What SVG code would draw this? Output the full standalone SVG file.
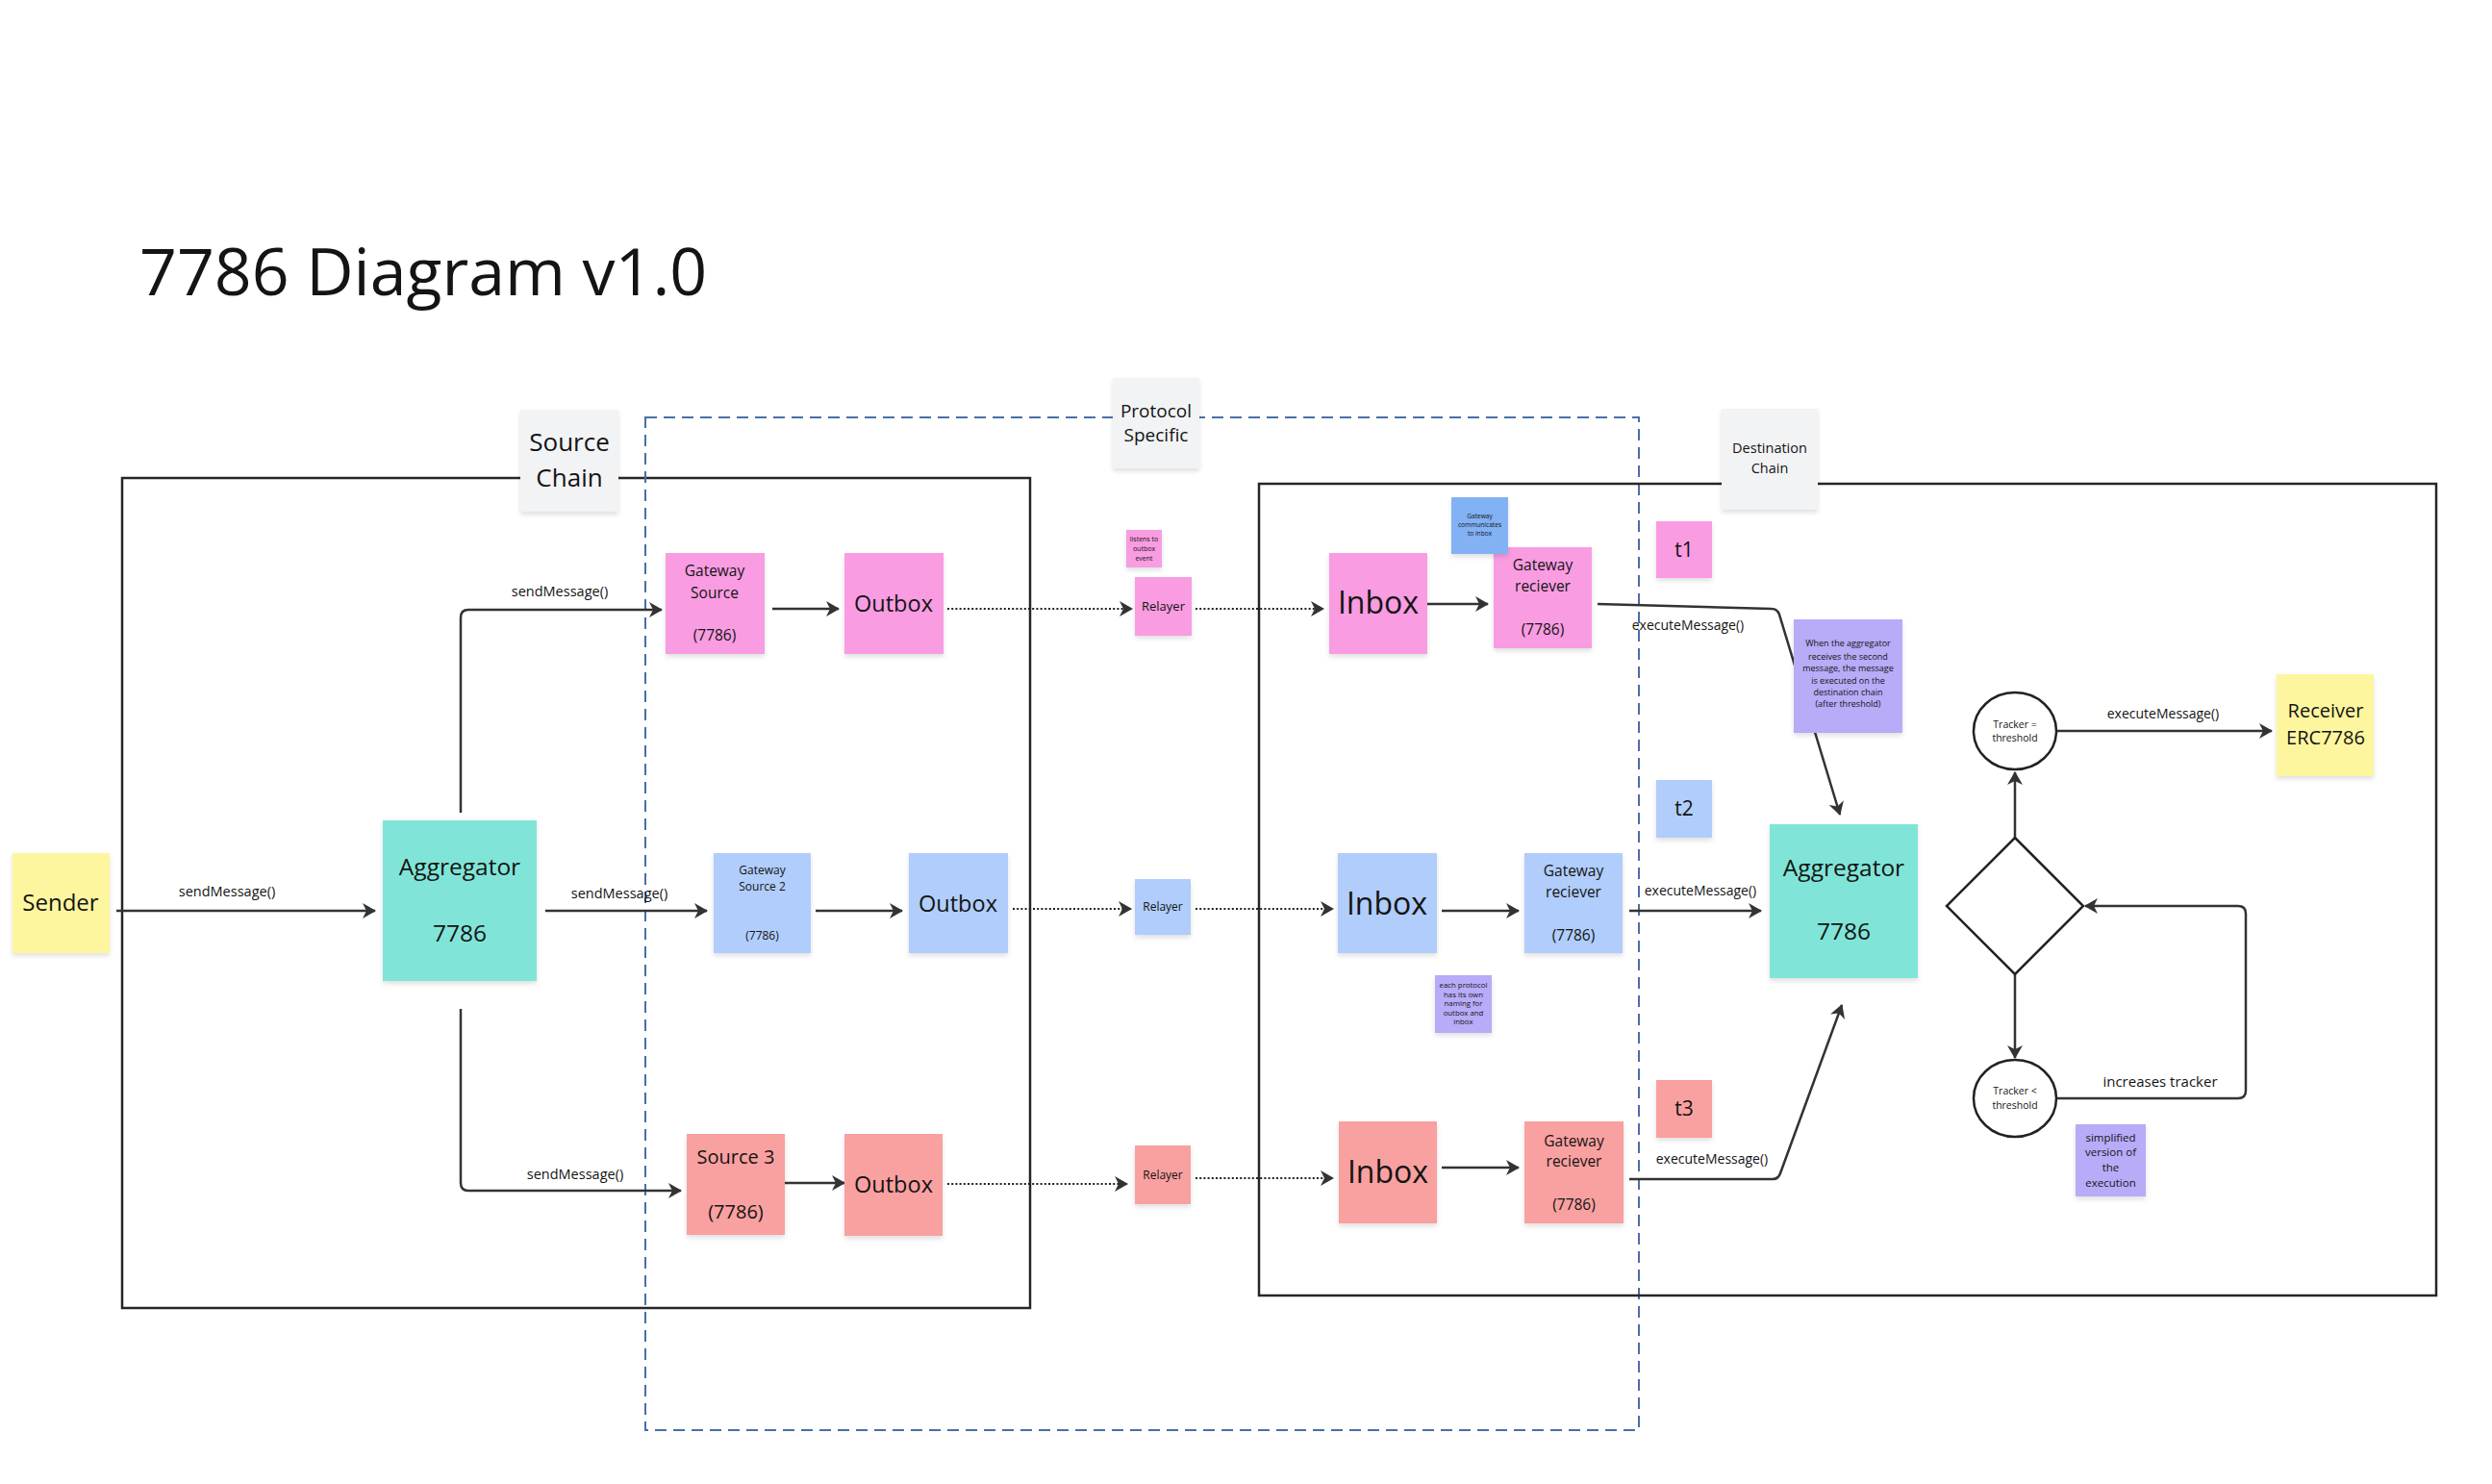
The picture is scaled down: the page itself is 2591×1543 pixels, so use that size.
<svg xmlns="http://www.w3.org/2000/svg" width="2591" height="1543" viewBox="0 0 2591 1543">
<defs>
<style>
text{font-family:"Open Sans","Noto Sans",sans-serif;fill:#141414;text-anchor:middle}
.pink{fill:#f99ce2}
.blue{fill:#b0cdfb}
.red{fill:#f9a0a0}
.teal{fill:#80e5d8}
.yellow{fill:#fdf69f}
.purple{fill:#b8abf8}
.bnote{fill:#82b1f4}
.grey{fill:#f2f3f5}
.st{filter:url(#sh)}
.frame{fill:none;stroke:#262626;stroke-width:2.5}
.dash{fill:none;stroke:#4a6ea8;stroke-width:2;stroke-dasharray:12 7}
.c{fill:none;stroke:#333;stroke-width:2.5;marker-end:url(#a)}
.d{fill:none;stroke:#222;stroke-width:2.2;stroke-dasharray:2 2.2;marker-end:url(#a)}
.n{fill:#fff;stroke:#222;stroke-width:2.5}
.lbl{font-size:14.5px}
.ex{font-size:14px}
</style>
<filter id="sh" x="-10%" y="-10%" width="120%" height="125%"><feDropShadow dx="0" dy="3" stdDeviation="2.5" flood-color="#000" flood-opacity="0.12"/></filter>
<marker id="a" viewBox="0 0 14 16" refX="13" refY="8" markerWidth="14" markerHeight="16" markerUnits="userSpaceOnUse" orient="auto"><path d="M0,0 L14,8 L0,16 L4,8 Z" fill="#333"/></marker>
</defs>
<rect width="2591" height="1543" fill="#fff"/>
<text x="145" y="307" style="font-size:68px;text-anchor:start">7786 Diagram v1.0</text>

<g id="containers">
<rect class="frame" x="127" y="497" width="944" height="863"/>
<rect class="dash" x="671" y="434" width="1033" height="1053"/>
<rect class="frame" x="1309" y="503" width="1224" height="844"/>
</g>

<g id="connectors">
<path class="c" d="M121,947 H390"/>
<text class="lbl" x="236" y="932">sendMessage()</text>
<path class="c" d="M479,845 V642 Q479,634 487,634 H688"/>
<text class="lbl" x="582" y="620">sendMessage()</text>
<path class="c" d="M567,947 H735"/>
<text class="lbl" x="644" y="934">sendMessage()</text>
<path class="c" d="M479,1049 V1230 Q479,1238 487,1238 H708"/>
<text class="lbl" x="598" y="1226">sendMessage()</text>

<path class="c" d="M803,633 H872"/>
<path class="d" d="M985,633 H1177"/>
<path class="d" d="M1243,633 H1376"/>
<path class="c" d="M1484,628 H1547"/>

<path class="c" d="M848,947 H938"/>
<path class="d" d="M1053,945 H1176"/>
<path class="d" d="M1243,945 H1386"/>
<path class="c" d="M1499,947 H1579"/>

<path class="c" d="M806,1230 H878"/>
<path class="d" d="M985,1231 H1172"/>
<path class="d" d="M1243,1225 H1386"/>
<path class="c" d="M1499,1214 H1579"/>

<path class="c" d="M1661,628 L1842,633 Q1848,633 1850,639 L1913,847"/>
<text class="ex" x="1755" y="655">executeMessage()</text>
<path class="c" d="M1694,947 H1831"/>
<text class="ex" x="1768" y="931">executeMessage()</text>
<path class="c" d="M1694,1226 L1843,1226 Q1849,1226 1851,1220 L1915,1045"/>
<text class="ex" x="1780" y="1210">executeMessage()</text>

<path class="c" d="M2095,871 V803"/>
<path class="c" d="M2095,1013 V1100"/>
<path class="c" d="M2138,1142 H2327 Q2335,1142 2335,1134 V950 Q2335,942 2327,942 H2168"/>
<text style="font-size:15px" x="2246" y="1130">increases tracker</text>
<path class="c" d="M2138,760 H2362"/>
<text class="ex" x="2249" y="747">executeMessage()</text>
</g>

<g id="label-source-chain"><rect class="grey st" x="541" y="426" width="102" height="106"/><text style="font-size:26px" x="592" y="469">Source</text><text style="font-size:26px" x="592" y="506">Chain</text></g>
<g id="label-protocol"><rect class="grey st" x="1157" y="393" width="90" height="94"/><text style="font-size:19px" x="1202" y="434">Protocol</text><text style="font-size:19px" x="1202" y="459">Specific</text></g>
<g id="label-dest-chain"><rect class="grey st" x="1790" y="425" width="100" height="105"/><text style="font-size:14.5px" x="1840" y="471">Destination</text><text style="font-size:14.5px" x="1840" y="492">Chain</text></g>

<g id="sender"><rect class="yellow st" x="13" y="887" width="101" height="104"/><text style="font-size:24px" x="63" y="947">Sender</text></g>
<g id="aggregator-src"><rect class="teal st" x="398" y="853" width="160" height="167"/><text style="font-size:24.5px" x="478" y="910">Aggregator</text><text style="font-size:24.5px" x="478" y="979">7786</text></g>

<g id="gateway-source-1"><rect class="pink st" x="692" y="575" width="103" height="105"/><g style="font-size:15.5px"><text x="743" y="599">Gateway</text><text x="743" y="622">Source</text><text x="743" y="666">(7786)</text></g></g>
<g id="outbox-1"><rect class="pink st" x="878" y="575" width="103" height="105"/><text style="font-size:23.5px" x="929" y="636">Outbox</text></g>
<g id="note-listens"><rect class="pink st" x="1171" y="551" width="37" height="39"/><g style="font-size:7px"><text x="1189.5" y="562.5">listens to</text><text x="1189.5" y="572.5">outbox</text><text x="1189.5" y="582.5">event</text></g></g>
<g id="relayer-1"><rect class="pink st" x="1180" y="600" width="59" height="61"/><text style="font-size:13px" x="1209.5" y="635">Relayer</text></g>
<g id="inbox-1"><rect class="pink st" x="1382" y="575" width="102" height="105"/><text style="font-size:32px" x="1433" y="638">Inbox</text></g>
<g id="gateway-receiver-1"><rect class="pink st" x="1553" y="569" width="102" height="105"/><g style="font-size:15.5px"><text x="1604" y="593">Gateway</text><text x="1604" y="615">reciever</text><text x="1604" y="660">(7786)</text></g></g>
<g id="note-gateway"><rect class="bnote st" x="1509" y="517" width="59" height="59"/><g style="font-size:6.6px"><text x="1538.5" y="539">Gateway</text><text x="1538.5" y="548">communicates</text><text x="1538.5" y="557">to inbox</text></g></g>
<g id="t1"><rect class="pink st" x="1722" y="542" width="58" height="59"/><text style="font-size:21px" x="1751" y="579">t1</text></g>

<g id="gateway-source-2"><rect class="blue st" x="742" y="887" width="101" height="104"/><g style="font-size:12px"><text x="792.5" y="909">Gateway</text><text x="792.5" y="926">Source 2</text><text x="792.5" y="977">(7786)</text></g></g>
<g id="outbox-2"><rect class="blue st" x="945" y="887" width="103" height="104"/><text style="font-size:23.5px" x="996" y="948">Outbox</text></g>
<g id="relayer-2"><rect class="blue st" x="1180" y="914" width="58" height="58"/><text style="font-size:12px" x="1209" y="947">Relayer</text></g>
<g id="inbox-2"><rect class="blue st" x="1391" y="887" width="103" height="104"/><text style="font-size:32px" x="1442" y="951">Inbox</text></g>
<g id="gateway-receiver-2"><rect class="blue st" x="1585" y="887" width="102" height="104"/><g style="font-size:15.5px"><text x="1636" y="911">Gateway</text><text x="1636" y="933">reciever</text><text x="1636" y="978">(7786)</text></g></g>
<g id="note-protocol"><rect class="purple st" x="1492" y="1014" width="59" height="60"/><g style="font-size:7.8px"><text x="1521.5" y="1027">each protocol</text><text x="1521.5" y="1037">has its own</text><text x="1521.5" y="1046">naming for</text><text x="1521.5" y="1056">outbox and</text><text x="1521.5" y="1065">inbox</text></g></g>
<g id="t2"><rect class="blue st" x="1722" y="811" width="58" height="60"/><text style="font-size:21px" x="1751" y="848">t2</text></g>
<g id="aggregator-dst"><rect class="teal st" x="1840" y="857" width="154" height="160"/><text style="font-size:24.5px" x="1917" y="911">Aggregator</text><text style="font-size:24.5px" x="1917" y="977">7786</text></g>

<g id="source-3"><rect class="red st" x="714" y="1179" width="102" height="105"/><g style="font-size:20px"><text x="765" y="1210">Source 3</text><text x="765" y="1267">(7786)</text></g></g>
<g id="outbox-3"><rect class="red st" x="878" y="1179" width="102" height="106"/><text style="font-size:23.5px" x="929" y="1240">Outbox</text></g>
<g id="relayer-3"><rect class="red st" x="1180" y="1191" width="58" height="61"/><text style="font-size:12px" x="1209" y="1226">Relayer</text></g>
<g id="inbox-3"><rect class="red st" x="1392" y="1166" width="102" height="106"/><text style="font-size:32px" x="1443" y="1230">Inbox</text></g>
<g id="gateway-receiver-3"><rect class="red st" x="1585" y="1166" width="103" height="106"/><g style="font-size:15.5px"><text x="1636.5" y="1192">Gateway</text><text x="1636.5" y="1213">reciever</text><text x="1636.5" y="1258">(7786)</text></g></g>
<g id="t3"><rect class="red st" x="1722" y="1123" width="58" height="60"/><text style="font-size:21px" x="1751" y="1160">t3</text></g>

<g id="note-threshold"><rect class="purple st" x="1865" y="644" width="113" height="118"/><g style="font-size:9px"><text x="1921.5" y="672">When the aggregator</text><text x="1921.5" y="686">receives the second</text><text x="1921.5" y="698">message, the message</text><text x="1921.5" y="711">is executed on the</text><text x="1921.5" y="723">destination chain</text><text x="1921.5" y="735">(after threshold)</text></g></g>

<g id="decision"><polygon class="n" points="2095,871 2166,942 2095,1013 2024,942"/></g>
<g id="tracker-eq"><ellipse class="n" cx="2095" cy="760" rx="43" ry="40"/><g style="font-size:10.5px"><text x="2095" y="756.5">Tracker =</text><text x="2095" y="771">threshold</text></g></g>
<g id="tracker-lt"><ellipse class="n" cx="2095" cy="1142" rx="43" ry="40"/><g style="font-size:10.5px"><text x="2095" y="1138">Tracker &lt;</text><text x="2095" y="1153">threshold</text></g></g>
<g id="receiver"><rect class="yellow st" x="2367" y="701" width="101" height="106"/><g style="font-size:20px"><text x="2418" y="746">Receiver</text><text x="2418" y="774">ERC7786</text></g></g>
<g id="note-simplified"><rect class="purple st" x="2158" y="1169" width="73" height="75"/><g style="font-size:11.5px"><text x="2194.5" y="1187">simplified</text><text x="2194.5" y="1202">version of</text><text x="2194.5" y="1218">the</text><text x="2194.5" y="1234">execution</text></g></g>
</svg>
